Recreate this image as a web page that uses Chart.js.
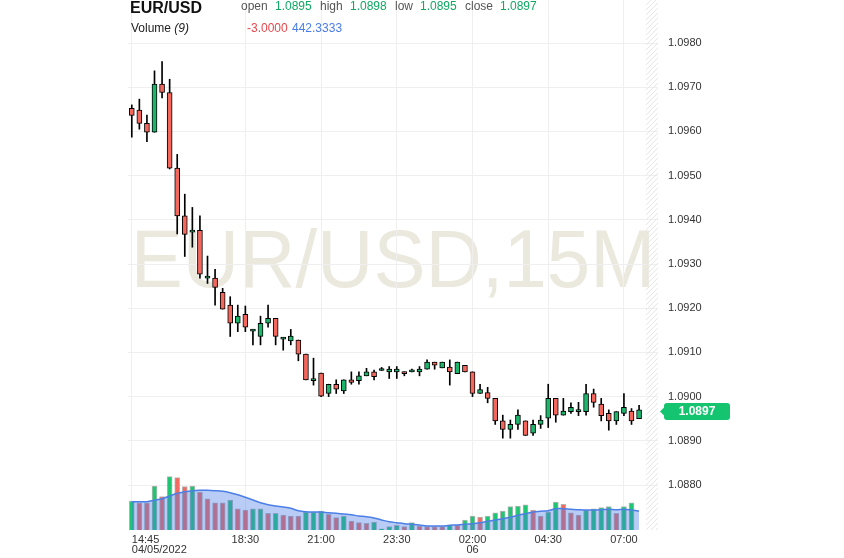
<!DOCTYPE html>
<html><head><meta charset="utf-8">
<script src="https://cdn.jsdelivr.net/npm/chart.js@4.4.1/dist/chart.umd.min.js"></script>
<style>
html,body{margin:0;padding:0;background:#fff;}
#wrap{position:relative;width:844px;height:558px;overflow:hidden;font-family:'Liberation Sans',Arial,sans-serif;}
#wm{position:absolute;left:128px;width:530px;top:219px;height:80px;text-align:center;font-size:78px;line-height:80px;color:#ebe8de;white-space:nowrap;transform:scaleY(1.04);}
canvas{position:absolute;left:0;top:0;}
.t{position:absolute;white-space:nowrap;font-size:12px;line-height:12px;}
.lb{color:#555;}
.gv{color:#10a862;}
</style></head>
<body><div id="wrap">
<div id="wm">EUR/USD,15M</div>
<canvas id="c" width="844" height="558"></canvas>
<div class="t" style="left:130px;top:0px;font-size:16px;line-height:16px;font-weight:bold;color:#111">EUR/USD</div>
<div class="t lb" style="left:241px;top:0px">open</div>
<div class="t gv" style="left:275px;top:0px">1.0895</div>
<div class="t lb" style="left:320px;top:0px">high</div>
<div class="t gv" style="left:350px;top:0px">1.0898</div>
<div class="t lb" style="left:395px;top:0px">low</div>
<div class="t gv" style="left:420px;top:0px">1.0895</div>
<div class="t lb" style="left:465px;top:0px">close</div>
<div class="t gv" style="left:500px;top:0px">1.0897</div>
<div class="t" style="left:131px;top:22px;color:#222">Volume <i>(9)</i></div>
<div class="t" style="left:247px;top:22px;color:#e5484d">-3.0000</div>
<div class="t" style="left:292px;top:22px;color:#4a7de8">442.3333</div>
</div>
<script>
// ---- data ----
const tickIdx = [0, 15, 25, 35, 45, 55, 65];
const tickLabels = [['14:45', '04/05/2022'], '18:30', '21:00', '23:30', ['02:00', '06'], '04:30', '07:00'];
const priceTicks = [1.088, 1.089, 1.090, 1.091, 1.092, 1.093, 1.094, 1.095, 1.096, 1.097, 1.098];

const opens = [1.09652,1.09648,1.09618,1.09598,1.09707,1.09688,1.09517,1.09409,1.09372,1.09376,
1.09268,1.09268,1.09236,1.09207,1.09166,1.09186,1.09148,1.09136,1.09166,1.09177,
1.09130,1.09126,1.09128,1.09096,1.09036,1.09053,1.09007,1.09028,1.09013,1.09038,
1.09036,1.09047,1.09056,1.09059,1.09056,1.09056,1.09056,1.09056,1.09056,1.09062,
1.09078,1.09065,1.09067,1.09052,1.09071,1.09056,1.09007,1.09009,1.08996,1.08945,
1.08926,1.08937,1.08945,1.08917,1.08937,1.08951,1.08996,1.08958,1.08966,1.08966,
1.08966,1.09007,1.08983,1.08962,1.08945,1.08962,1.08967,1.08950];
const highs = [1.09660,1.09673,1.09637,1.09737,1.09758,1.09718,1.09548,1.09458,1.09428,1.09409,
1.09318,1.09288,1.09245,1.09226,1.09207,1.09205,1.09152,1.09182,1.09207,1.09177,
1.09134,1.09152,1.09128,1.09096,1.09087,1.09053,1.09028,1.09038,1.09038,1.09056,
1.09056,1.09064,1.09060,1.09066,1.09068,1.09068,1.09056,1.09062,1.09068,1.09083,
1.09078,1.09078,1.09083,1.09078,1.09071,1.09056,1.09028,1.09021,1.08996,1.08958,
1.08947,1.08970,1.08945,1.08947,1.08957,1.09028,1.08996,1.08996,1.08986,1.08987,
1.09028,1.09017,1.08996,1.08970,1.08966,1.09007,1.08973,1.08980];
const lows = [1.09587,1.09605,1.09577,1.09598,1.09676,1.09515,1.09368,1.09317,1.09338,1.09268,
1.09256,1.09207,1.09198,1.09136,1.09147,1.09147,1.09117,1.09117,1.09157,1.09117,
1.09105,1.09117,1.09081,1.09038,1.09026,1.09000,1.09000,1.09007,1.09007,1.09028,
1.09028,1.09047,1.09038,1.09059,1.09041,1.09041,1.09047,1.09056,1.09047,1.09062,
1.09062,1.09065,1.09026,1.09052,1.09056,1.09000,1.09007,1.08986,1.08937,1.08906,
1.08906,1.08926,1.08912,1.08912,1.08928,1.08930,1.08942,1.08958,1.08962,1.08957,
1.08958,1.08976,1.08945,1.08924,1.08937,1.08957,1.08937,1.08950];
const closes = [1.09636,1.09618,1.09598,1.09707,1.09688,1.09517,1.09409,1.09367,1.09376,1.09277,
1.09268,1.09247,1.09198,1.09166,1.09182,1.09157,1.09148,1.09166,1.09177,1.09136,
1.09130,1.09137,1.09096,1.09038,1.09041,1.09001,1.09028,1.09017,1.09038,1.09032,
1.09047,1.09056,1.09045,1.09059,1.09062,1.09062,1.09052,1.09056,1.09062,1.09078,
1.09071,1.09078,1.09056,1.09078,1.09056,1.09007,1.09016,1.08996,1.08945,1.08926,
1.08937,1.08958,1.08912,1.08937,1.08947,1.08996,1.08958,1.08967,1.08976,1.08966,
1.09007,1.08987,1.08957,1.08945,1.08966,1.08976,1.08945,1.08970];

const volumes = [676,636,636,1025,776,1242,1219,1009,1025,885,
729,636,636,699,496,466,496,496,389,389,
350,326,326,419,419,443,366,287,326,210,
170,156,186,30,77,110,77,170,93,77,
77,77,110,110,233,326,303,326,403,443,
543,559,589,466,326,419,652,599,403,350,
466,496,520,543,389,543,636,-3];
const volUp = [1,0,0,1,0,1,0,0,1,0,
0,0,0,1,0,0,1,1,0,1,
0,0,0,1,1,1,0,0,1,0,
0,0,1,1,1,1,0,1,0,0,
0,0,1,0,1,1,0,1,1,1,
1,1,1,0,0,1,1,0,0,0,
1,1,1,1,0,1,1,0];
const volMA = [659,659,659,692,729,792,855,892,916,925,
925,916,902,869,822,762,699,636,589,559,
536,506,450,426,419,419,403,389,373,356,
326,310,280,233,193,170,147,133,117,93,
93,93,110,117,133,147,170,203,233,263,
296,343,380,419,436,450,496,496,482,473,
466,466,473,482,473,482,466,442];

// ---- styles ----
const UP = '#1db46c', DOWN = '#f4675d';
const VUP = '#1ec573', VDOWN = '#f26a60';
Chart.defaults.font.family = "'Liberation Sans', Arial, sans-serif";

const idx = opens.map((_, i) => i);
const bodies = idx.map(i => ({x: i, y: [opens[i], closes[i]]}));
const wicks = idx.map(i => ({x: i, y: [lows[i], highs[i]]}));
const vols = idx.map(i => ({x: i, y: volumes[i]}));
const ma = idx.map(i => ({x: i, y: volMA[i]}));

const hatch = {
  id: 'hatch',
  beforeDatasetsDraw(chart) {
    const {ctx, chartArea: a, scales: {x}} = chart;
    const x0 = x.getPixelForValue(67.9);
    ctx.save();
    ctx.beginPath();
    ctx.rect(x0, a.top, a.right - x0, a.bottom - a.top);
    ctx.clip();
    ctx.beginPath();
    ctx.strokeStyle = '#e4e4e4';
    ctx.lineWidth = 1;
    const h = a.bottom - a.top;
    for (let k = -h; k < a.right - x0 + 5; k += 5) {
      ctx.moveTo(x0 + k, a.bottom);
      ctx.lineTo(x0 + k + h, a.top);
    }
    ctx.stroke();
    ctx.restore();
  }
};

const priceLabel = {
  id: 'priceLabel',
  afterDraw(chart) {
    const {ctx, chartArea: a, scales: {y}} = chart;
    const last = closes[closes.length - 1];
    const py = Math.round(y.getPixelForValue(last)) + 1.5;
    const xt = a.right + 2, xl = xt + 4, xr = xl + 66, h = 17, r = 3;
    ctx.save();
    ctx.fillStyle = '#14c46f';
    ctx.beginPath();
    ctx.moveTo(xt, py);
    ctx.lineTo(xl, py - 4);
    ctx.lineTo(xl, py - h / 2 + r);
    ctx.quadraticCurveTo(xl, py - h / 2, xl + r, py - h / 2);
    ctx.lineTo(xr - r, py - h / 2);
    ctx.quadraticCurveTo(xr, py - h / 2, xr, py - h / 2 + r);
    ctx.lineTo(xr, py + h / 2 - r);
    ctx.quadraticCurveTo(xr, py + h / 2, xr - r, py + h / 2);
    ctx.lineTo(xl + r, py + h / 2);
    ctx.quadraticCurveTo(xl, py + h / 2, xl, py + h / 2 - r);
    ctx.lineTo(xl, py + 4);
    ctx.closePath();
    ctx.fill();
    ctx.fillStyle = '#fff';
    ctx.font = "bold 12px 'Liberation Sans', Arial, sans-serif";
    ctx.textAlign = 'center';
    ctx.textBaseline = 'middle';
    ctx.fillText(last.toFixed(4), (xl + xr) / 2, py + 0.5);
    ctx.restore();
  }
};

new Chart(document.getElementById('c'), {
  type: 'bar',
  data: {
    datasets: [
      {
        type: 'bar', data: bodies, yAxisID: 'y', grouped: false, barThickness: 5, minBarLength: 2,
        backgroundColor: idx.map(i => closes[i] >= opens[i] ? UP : DOWN),
        borderColor: '#000', borderWidth: 1, borderSkipped: false, order: 0
      },
      {
        type: 'bar', data: wicks, yAxisID: 'y', grouped: false, barThickness: 1,
        backgroundColor: '#000', borderWidth: 0, order: 1
      },
      {
        type: 'line', data: ma, yAxisID: 'yv', borderColor: '#4c7fe6', borderWidth: 1.5,
        backgroundColor: 'rgba(70,120,230,0.38)', fill: 'origin', pointRadius: 0, tension: 0.4, order: 2
      },
      {
        type: 'bar', data: vols, yAxisID: 'yv', grouped: false, barThickness: 5,
        backgroundColor: idx.map(i => volUp[i] ? VUP : VDOWN),
        borderColor: 'rgba(120,120,120,0.55)', borderWidth: 1, borderSkipped: 'start', order: 3
      }
    ]
  },
  options: {
    responsive: false, animation: false, events: [],
    layout: {padding: {left: 128, top: 0, right: 0, bottom: 0}},
    plugins: {legend: {display: false}, tooltip: {enabled: false}},
    scales: {
      x: {
        type: 'linear', min: -0.5, max: 69.5, position: 'bottom', offset: false,
        afterFit: s => { s.height = 28; s.paddingLeft = 0; s.paddingRight = 0; },
        afterBuildTicks: s => { s.ticks = tickIdx.concat([69.5]).map(v => ({value: v})); },
        ticks: {
          align: 'inner', maxRotation: 0, autoSkip: false, padding: 5, color: '#333',
          font: {size: 11, lineHeight: 0.9},
          callback: v => { const k = tickIdx.indexOf(v); return k >= 0 ? tickLabels[k] : ''; }
        },
        grid: {offset: false, color: c => (c.tick && c.tick.value === 69.5) ? 'rgba(0,0,0,0)' : '#efefef', drawTicks: false},
        border: {display: false}
      },
      y: {
        position: 'right', min: 1.086982, max: 1.098973,
        afterFit: s => { s.width = 186; s.paddingTop = 0; s.paddingBottom = 0; },
        afterBuildTicks: s => { s.ticks = priceTicks.map(v => ({value: v})); },
        ticks: {padding: 10, color: '#333', font: {size: 11}, callback: v => Number(v).toFixed(4)},
        grid: {color: '#efefef', drawTicks: false},
        border: {display: false}
      },
      yv: {display: false, min: 0, max: 12350}
    }
  },
  plugins: [hatch, priceLabel]
});
</script>
</body></html>
